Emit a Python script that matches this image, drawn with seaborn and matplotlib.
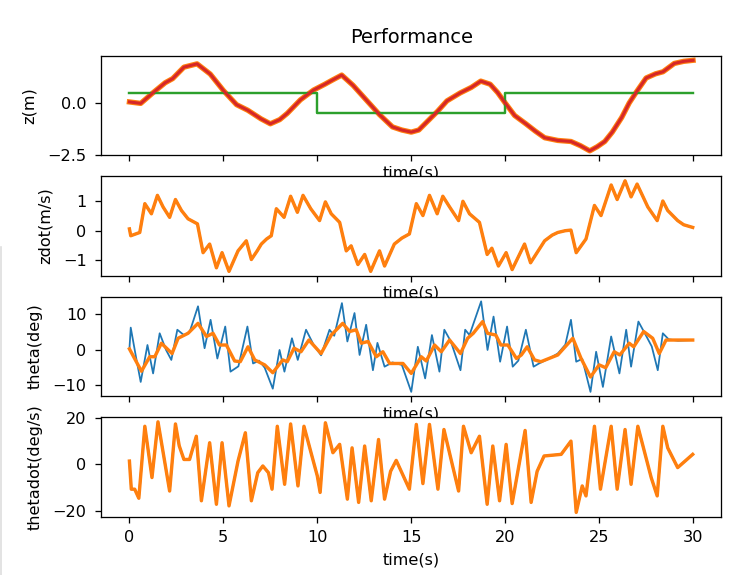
import numpy as np
import seaborn as sns
import matplotlib.pyplot as plt
from matplotlib.lines import Line2D
from matplotlib.ticker import MaxNLocator

# z position (m)
t_z = [0, 0.6, 1.2, 1.9, 2.3, 2.9, 3.6, 4.3, 5.0, 5.7, 6.3, 7.0, 7.5, 8.0, 8.4, 9.1, 9.8, 10.4, 10.8, 11.3,
       11.9, 12.6, 13.3, 14.0, 14.5, 15.0, 15.4, 15.9, 16.4, 16.9, 17.6, 18.2, 18.7, 19.2, 19.6, 20.0, 20.5, 21.1, 21.6, 22.1,
       22.8, 23.5, 24.0, 24.5, 24.9, 25.3, 25.7, 26.2, 26.6, 27.0, 27.5, 28.0, 28.4, 29.0, 29.5, 30.0]
z = [0.05, -0.02, 0.45, 0.97, 1.17, 1.72, 1.88, 1.39, 0.6, -0.08, -0.35, -0.76, -1.0, -0.8, -0.5, 0.15, 0.62, 0.9, 1.1, 1.34,
     0.85, 0.15, -0.55, -1.15, -1.3, -1.4, -1.3, -0.85, -0.4, 0.1, 0.48, 0.75, 1.05, 0.9, 0.5, 0.0, -0.6, -1.0, -1.35, -1.67,
     -1.8, -1.85, -2.05, -2.3, -2.1, -1.85, -1.4, -0.7, 0.0, 0.55, 1.2, 1.4, 1.5, 1.9, 2.0, 2.05]
t_ref = [0, 10, 20, 30]
z_ref = [0.5, -0.5, 0.5, 0.5]

# zdot (m/s)
t_zd = [0, 0.07, 0.55, 0.82, 1.17, 1.49, 1.79, 2.14, 2.45, 2.77, 3.12, 3.62, 3.92, 4.27, 4.63, 4.93, 5.30, 5.78, 6.22, 6.49,
        6.8, 7.02, 7.3, 7.55, 7.82, 8.23, 8.58, 8.94, 9.24, 9.65, 10.12, 10.43, 10.74, 11.19, 11.54, 11.8, 12.16, 12.52, 12.84, 13.31,
        13.58, 14.1, 14.5, 14.9, 15.27, 15.62, 15.97, 16.38, 16.68, 17.04, 17.52, 17.75, 18.1, 18.63, 19.04, 19.29, 19.64, 20.05, 20.37, 21.03,
        21.35, 22.1, 22.5, 22.8, 23.2, 23.5, 23.78, 24.3, 24.75, 25.1, 25.64, 25.96, 26.38, 26.7, 27.02, 27.59, 28.09, 28.39, 28.65, 29.18,
        29.5, 29.98]
zdot = [0.06, -0.17, -0.06, 0.91, 0.57, 1.19, 0.8, 0.45, 1.05, 0.68, 0.4, 0.23, -0.74, -0.45, -1.25, -0.74, -1.37, -0.68, -0.34, -0.97,
        -0.68, -0.45, -0.28, -0.17, 0.74, 0.45, 1.16, 0.62, 1.19, 0.74, 0.34, 0.97, 0.57, 0.28, -0.68, -0.51, -1.14, -0.8, -1.37, -0.68,
        -1.19, -0.45, -0.25, -0.11, 0.91, 0.51, 1.19, 0.57, 1.16, 0.8, 0.34, 0.99, 0.57, 0.28, -0.8, -0.59, -1.19, -0.74, -1.31, -0.45,
        -1.08, -0.34, -0.15, -0.06, 0.0, 0.02, -0.74, -0.28, 0.85, 0.51, 1.54, 1.05, 1.68, 1.14, 1.57, 0.8, 0.34, 1.0, 0.68, 0.34,
        0.2, 0.11]

# theta (deg), measured (blue) and filtered (orange)
t_th = [0, 0.07, 0.35, 0.6, 0.96, 1.26, 1.61, 1.95, 2.23, 2.55, 2.9, 3.2, 3.65, 4.0, 4.32, 4.68, 5.1, 5.38, 5.8, 6.28,
        6.58, 6.9, 7.2, 7.63, 7.99, 8.25, 8.65, 8.96, 9.4, 9.8, 10.2, 10.65, 10.9, 11.31, 11.6, 11.98, 12.25, 12.6, 12.96, 13.2,
        13.58, 14.0, 14.5, 15.0, 15.35, 15.74, 16.1, 16.5, 16.76, 17.1, 17.62, 17.87, 18.1, 18.72, 19.06, 19.38, 19.73, 20.1, 20.4, 20.7,
        21.1, 21.51, 21.8, 22.3, 22.8, 23.2, 23.5, 23.78, 24.1, 24.54, 24.84, 25.2, 25.64, 26.08, 26.44, 26.7, 27.09, 27.4, 27.8, 28.12,
        28.39, 28.7, 29.2, 29.98]
theta = [0.3, 6.3, -2, -9.0, 1.4, -6.6, 4.7, 0, -2.8, 5.7, 4.2, 5, 12.3, 0.5, 8.5, -2.4, 6.6, -6.1, -4.6, 6.6,
         -3.8, -3, -5, -10.9, 0, -6.1, 3.3, -2.8, 5.7, 1.5, -1.5, 5.7, 4, 13.2, 2.4, 10.4, -1.4, 7.1, -5.7, 2,
         -4.7, -3.5, -4.2, -11.8, 0.9, -8.0, 4.2, -6.1, 5.7, 2.5, -5.7, 5.7, 4.2, 13.7, 0, 9.4, -3.3, 6.6, -4.7, -3,
         5.7, -4.7, -3.8, -2.5, -1.0, 1.5, 8.5, -3.3, -2.5, -11.8, -0.5, -10.4, 3.8, -6.6, 5.7, -4.7, 8.0, 5, 1, -5.7,
         4.7, 3, 2.6, 2.8]
t_thf = [0, 0.64, 1.08, 1.35, 1.70, 2.27, 2.59, 3.12, 3.65, 4.1, 4.45, 4.79, 5.16, 5.6, 5.9, 6.31, 6.67, 7.2, 7.63, 8.16,
         8.4, 8.76, 9.13, 9.55, 10.2, 10.74, 11.35, 11.72, 12.07, 12.34, 12.7, 13.14, 13.49, 13.85, 14.56, 15.0, 15.53, 15.8, 16.24, 16.6,
         17.04, 17.62, 18.0, 18.3, 18.8, 19.06, 19.5, 19.77, 20.14, 20.6, 20.86, 21.17, 21.56, 21.9, 22.8, 23.6, 24.04, 24.54, 25.0, 25.35,
         25.8, 26.1, 26.6, 26.84, 27.37, 27.85, 28.2, 28.56, 29.18, 29.98]
theta_f = [0.3, -6.0, -1.9, -1.9, 1.9, -1.0, 3.3, 4.7, 7.5, 3.8, 4.7, 1.4, 1.4, -3.1, -3.3, 0.9, -2.8, -4.2, -6.4, -2.8,
           -3.3, 0.5, -0.5, 2.8, -1.0, 4.2, 7.5, 5.2, 5.7, 1.9, 2.4, -1.9, -0.5, -3.8, -3.8, -6.6, -1.9, -3.1, 1.4, -0.5,
           2.8, -1.0, 3.3, 4.7, 8.0, 4.7, 4.2, 1.4, 1.4, -2.4, -1.4, 0.9, -2.8, -3.3, -1.4, 3.3, -2.4, -7.6, -4.2, -5.0,
           -0.5, -1.4, 1.9, 0.9, 5.2, 3.3, -1.0, 2.8, 2.8, 2.8]

# thetadot (deg/s)
t_td = [0, 0.1, 0.28, 0.5, 0.82, 1.2, 1.52, 2.14, 2.45, 2.65, 2.9, 3.2, 3.56, 3.83, 4.27, 4.63, 4.93, 5.30, 5.78, 6.17,
        6.49, 6.83, 7.1, 7.4, 7.59, 7.87, 8.26, 8.58, 8.97, 9.29, 9.7, 10.0, 10.15, 10.43, 10.83, 11.19, 11.6, 11.85, 12.2, 12.52,
        12.87, 13.26, 13.58, 13.9, 14.2, 14.9, 15.27, 15.62, 15.97, 16.42, 16.74, 17.52, 17.78, 18.19, 18.63, 19.04, 19.34, 19.7, 20.05, 20.37,
        21.06, 21.38, 21.7, 22.07, 22.98, 23.5, 23.78, 24.1, 24.3, 24.75, 25.07, 25.64, 25.96, 26.38, 26.7, 27.06, 27.77, 28.09, 28.39, 28.65,
        29.18, 29.98]
thetadot = [1.4, -10.7, -10.7, -14.6, 16.4, -5.7, 18.3, -11.5, 17.4, 8, 2.1, 2.1, 12.1, -15.7, 9.3, -17.2, 9.3, -17.9, 1.4, 13.6,
            -15.7, -3.6, -0.7, -3.6, -10.7, 16.4, -8.6, 17.4, -9.3, 16.4, 4, -5, -12.1, 17.9, 5.0, 8.6, -15.0, 7.1, -16.4, 7.9,
            -15.7, 10.7, -15.0, -3, 1.7, -10.7, 17.2, -8.3, 17.2, -10.7, 15.0, -11.5, 16.4, 5.0, 12.1, -17.2, 7.9, -15.7, 8.6, -16.9,
            14.6, -16.4, -3, 3.6, 4.3, 10.0, -20.7, -9.3, -13.6, 16.4, -10.7, 16.4, -10.7, 15.0, -8.6, 16.4, -5.7, -13.6, 16.4, 7.1,
            -1.4, 4.3]

# the reference looks like a screenshot scaled up ~1.16x, so render at that dpi
fig, axes = plt.subplots(4, 1, figsize=(739 / 116, 575 / 116), dpi=116)
plt.subplots_adjust(left=0.137, right=0.976, top=0.903, bottom=0.101, hspace=0.21)
for ax in axes[:3]:
    ax.sharex(axes[3])
    ax.tick_params(labelbottom=False)

kw = dict(estimator=None, sort=False)

ax = axes[0]
sns.lineplot(x=t_z, y=z, ax=ax, color="C0", linewidth=1.3, **kw)
sns.lineplot(x=t_z, y=z, ax=ax, color="C1", linewidth=3.3, **kw)
sns.lineplot(x=t_ref, y=z_ref, ax=ax, color="C2", linewidth=1.5, drawstyle="steps-post", **kw)
sns.lineplot(x=t_z, y=z, ax=ax, color="C3", linewidth=1.9, **kw)
ax.set_title("Performance", pad=8)
ax.set_ylabel("z(m)", labelpad=6.5)

ax = axes[1]
sns.lineplot(x=t_zd, y=zdot, ax=ax, color="C0", linewidth=1.3, **kw)
sns.lineplot(x=t_zd, y=zdot, ax=ax, color="C1", linewidth=2.1, **kw)
ax.set_ylabel("zdot(m/s)", labelpad=6.5)

ax = axes[2]
sns.lineplot(x=t_th, y=theta, ax=ax, color="C0", linewidth=1.1, **kw)
sns.lineplot(x=t_thf, y=theta_f, ax=ax, color="C1", linewidth=2.1, **kw)
ax.set_ylabel("theta(deg)", labelpad=6.5)

ax = axes[3]
sns.lineplot(x=t_td, y=thetadot, ax=ax, color="C0", linewidth=1.3, **kw)
sns.lineplot(x=t_td, y=thetadot, ax=ax, color="C1", linewidth=2.1, **kw)
ax.set_ylabel("thetadot(deg/s)", labelpad=6.5)

for i, ax in enumerate(axes):
    # seaborn hid the label on the axes without tick labels, turn it back on
    ax.set_xlabel("time(s)", visible=True, labelpad=5 if i == 3 else 2.5)
    ax.yaxis.set_major_locator(MaxNLocator(nbins=2, steps=[1, 2, 2.5, 5, 10]))
    ax.tick_params(axis="y", pad=5.5)
    ax.tick_params(axis="x", pad=4.5)

# faint border line seen at the left edge of the screenshot
fig.add_artist(Line2D([0.0015, 0.0015], [0, 0.57], transform=fig.transFigure, color="#dddddd", lw=1))

plt.savefig("out.png")
